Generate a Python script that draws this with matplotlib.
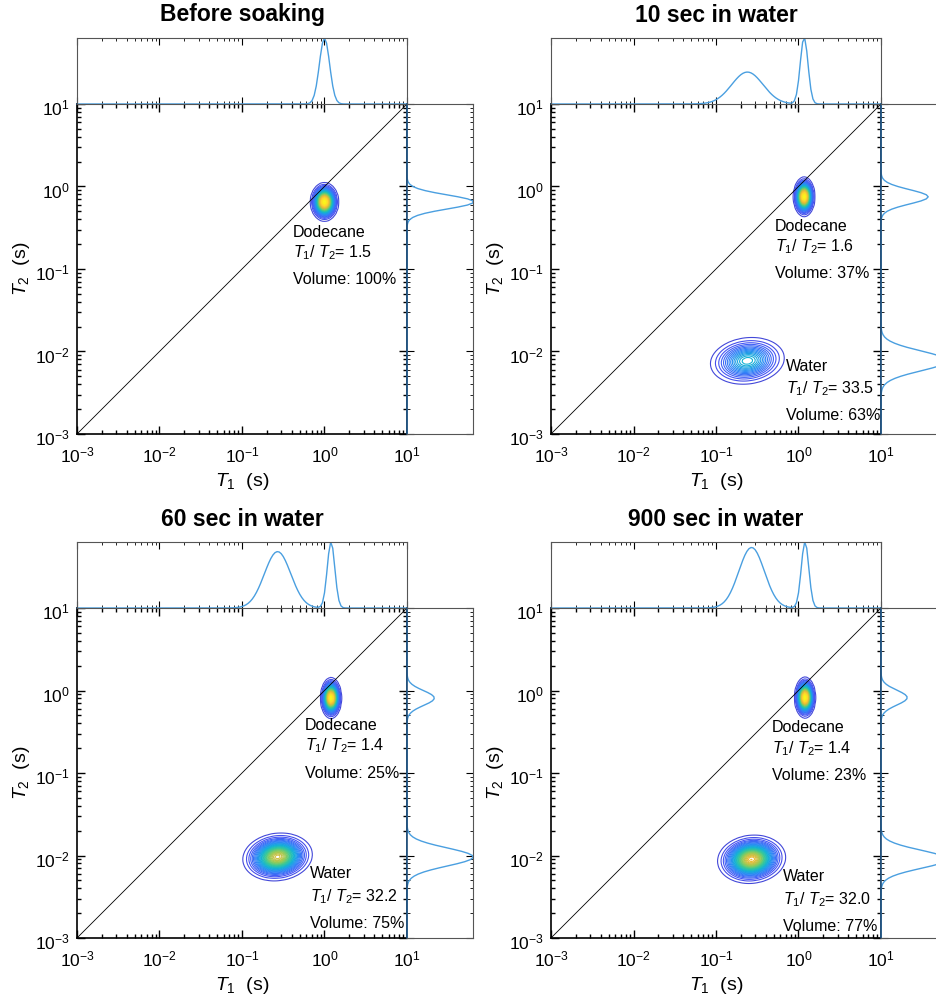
import matplotlib
matplotlib.use("Agg")
import matplotlib.pyplot as plt
import matplotlib.transforms as mtrans
import numpy as np
from matplotlib.colors import LinearSegmentedColormap

plt.rcParams['font.family'] = ['Liberation Sans', 'DejaVu Sans']
plt.rcParams['mathtext.fontset'] = 'custom'
plt.rcParams['mathtext.rm'] = 'Liberation Sans'
plt.rcParams['mathtext.it'] = 'Liberation Sans:italic'
plt.rcParams['mathtext.bf'] = 'Liberation Sans:bold'

# panel data
titles = ['Before soaking', '10 sec in water', '60 sec in water', '900 sec in water']
# dodecane peak: centre (s), log-width (decades), amplitude
dod_t1 = [1.00, 1.17, 1.20, 1.20]
dod_t2 = [0.65, 0.75, 0.81, 0.82]
dod_w1 = [0.062, 0.047, 0.046, 0.046]
dod_w2 = [0.085, 0.087, 0.090, 0.090]
dod_amp = [1.0, 1.0, 1.0, 1.0]
# water peak
wat_t1 = [0.24, 0.24, 0.27, 0.27]
wat_t2 = [0.0077, 0.0077, 0.0096, 0.0090]
wat_w1 = [0.19, 0.19, 0.16, 0.155]
wat_w2 = [0.12, 0.12, 0.11, 0.11]
wat_rho = [0.12, 0.12, 0.1, 0.08]
wat_amp = [0.0, 0.35, 0.70, 0.75]
# annotations
dod_ratio = ['1.5', '1.6', '1.4', '1.4']
dod_vol = ['100%', '37%', '25%', '23%']
wat_ratio = [None, '33.5', '32.2', '32.0']
wat_vol = [None, '63%', '75%', '77%']

# text positions (axes fraction)
dod_txt = [(0.655, 0.612), (0.679, 0.630), (0.691, 0.645), (0.670, 0.638)]
wat_txt = [None, (0.712, 0.206), (0.706, 0.194), (0.703, 0.185)]

# parula-like colormap
parula = LinearSegmentedColormap.from_list('parula', [
    (0.2081, 0.1663, 0.5292), (0.2810, 0.3228, 0.9579), (0.1786, 0.5289, 0.9682),
    (0.0689, 0.6948, 0.8394), (0.2161, 0.7843, 0.5923), (0.5783, 0.7975, 0.3358),
    (0.9153, 0.7296, 0.2165), (0.9932, 0.8385, 0.1886), (0.9769, 0.9839, 0.0805)])

lt = np.linspace(-3, 1, 161)
X, Y = np.meshgrid(lt, lt)

W, H = 937, 996
fig = plt.figure(figsize=(W / 100, H / 100), dpi=100)

origins = [(77, 104), (551, 104), (77, 608), (551, 608)]
line_c = '#4a9fe0'
size = 330
marg = 66


def rect(x0, ytop, w, h):
    return [x0 / W, 1 - (ytop + h) / H, w / W, h / H]


for i in range(4):
    x0, yt = origins[i]
    Z = dod_amp[i] * np.exp(-0.5 * (((X - np.log10(dod_t1[i])) / dod_w1[i]) ** 2
                                     + ((Y - np.log10(dod_t2[i])) / dod_w2[i]) ** 2))
    u = (X - np.log10(wat_t1[i])) / wat_w1[i]
    v = (Y - np.log10(wat_t2[i])) / wat_w2[i]
    r = wat_rho[i]
    Z = Z + wat_amp[i] * np.exp(-0.5 * (u ** 2 - 2 * r * u * v + v ** 2) / (1 - r ** 2))

    ax = fig.add_axes(rect(x0, yt, size, size))
    levels = np.linspace(0, Z.max(), 46)[1:]
    ax.contour(10 ** X, 10 ** Y, Z, levels=levels, cmap=parula, vmin=-0.08 * Z.max(),
               vmax=Z.max(), linewidths=0.8)
    ax.plot([1e-3, 10], [1e-3, 10], color='black', lw=0.6)
    ax.set_xscale('log')
    ax.set_yscale('log')
    ax.set_xlim(1e-3, 10)
    ax.set_ylim(1e-3, 10)
    ax.tick_params(which='both', direction='in', top=True, right=True, labelsize=12.5, width=1)
    ax.tick_params(which='major', length=6)
    ax.tick_params(which='minor', length=3)
    ax.tick_params(axis='x', pad=8)
    ax.tick_params(axis='y', pad=5)
    shift = mtrans.ScaledTranslation(0, -3 / 100, fig.dpi_scale_trans)
    for lab in ax.get_yticklabels():
        lab.set_transform(lab.get_transform() + shift)
    for s in ax.spines.values():
        s.set_linewidth(1.2)
    ax.spines['top'].set_color('#1f4e79')
    ax.spines['right'].set_color('#1f4e79')
    ax.set_xlabel(r'$T_1$  (s)', fontsize=14, labelpad=4)
    ax.set_ylabel(r'$T_2$  (s)', fontsize=14, labelpad=2)

    fs = 11.5
    tx, ty = dod_txt[i]
    ax.text(tx, ty, 'Dodecane', transform=ax.transAxes, fontsize=fs, va='center')
    ax.text(tx, ty - 0.063, r'$T_1$/ $T_2$= ' + dod_ratio[i], transform=ax.transAxes,
            fontsize=fs, va='center')
    ax.text(tx, ty - 0.145, 'Volume: ' + dod_vol[i], transform=ax.transAxes,
            fontsize=fs, va='center')
    if wat_ratio[i] is not None:
        tx, ty = wat_txt[i]
        ax.text(tx, ty, 'Water', transform=ax.transAxes, fontsize=fs, va='center')
        ax.text(tx, ty - 0.069, r'$T_1$/ $T_2$= ' + wat_ratio[i], transform=ax.transAxes,
                fontsize=fs, va='center')
        ax.text(tx, ty - 0.15, 'Volume: ' + wat_vol[i], transform=ax.transAxes,
                fontsize=fs, va='center')

    # top marginal (T1 distribution)
    axt = fig.add_axes(rect(x0, yt - marg, size, marg))
    top = Z.sum(axis=0)
    axt.plot(10 ** lt, top, color=line_c, lw=1.0)
    axt.set_xscale('log')
    axt.set_xlim(1e-3, 10)
    axt.set_ylim(0, top.max())
    axt.set_yticks([])
    axt.tick_params(which='both', direction='in', top=True, labelbottom=False)
    axt.tick_params(which='major', length=5)
    axt.tick_params(which='minor', length=2.5)
    for s in axt.spines.values():
        s.set_color('#555555')

    # right marginal (T2 distribution)
    axr = fig.add_axes(rect(x0 + size, yt, marg, size))
    right = Z.sum(axis=1)
    axr.plot(right, 10 ** lt, color=line_c, lw=1.0)
    axr.set_yscale('log')
    axr.set_ylim(1e-3, 10)
    axr.set_xlim(0, right.max())
    axr.set_xticks([])
    axr.tick_params(which='both', direction='in', right=True, labelleft=False)
    axr.tick_params(which='major', length=5)
    axr.tick_params(which='minor', length=2.5)
    for s in axr.spines.values():
        s.set_color('#555555')
    axr.spines['left'].set_color('#1f4e79')
    axr.spines['left'].set_linewidth(1.2)

    fig.text((x0 + size / 2) / W, 1 - (yt - 89) / H, titles[i], fontsize=16.5,
             fontweight='bold', ha='center', va='center')

fig.savefig('out.png', dpi=100)
